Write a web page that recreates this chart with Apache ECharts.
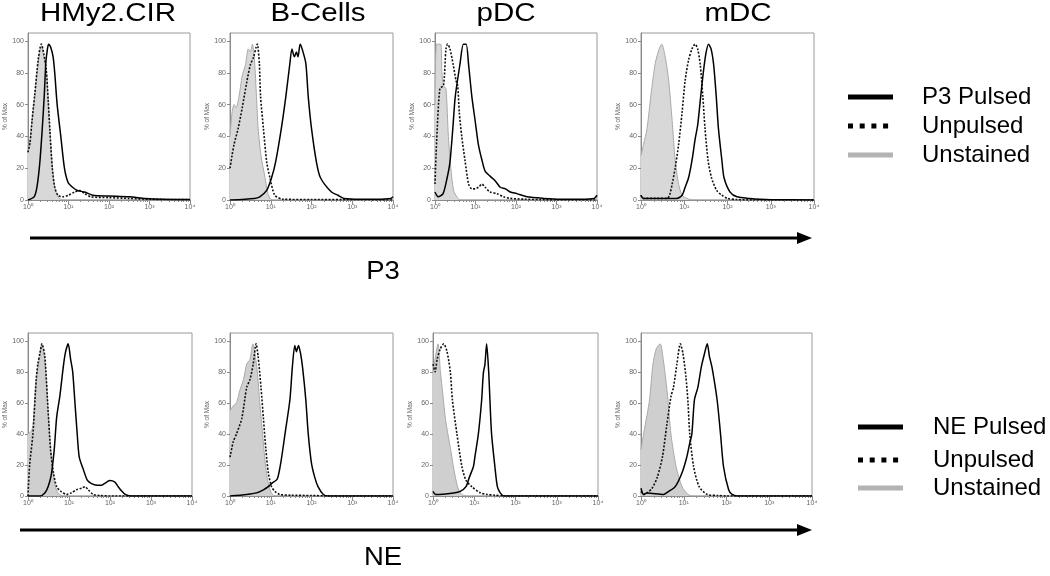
<!DOCTYPE html>
<html><head><meta charset="utf-8">
<script src="https://cdn.jsdelivr.net/npm/echarts@6/dist/echarts.min.js"></script>
<style>html,body{margin:0;padding:0;background:#fff}#c{width:1050px;height:576px}</style>
</head><body><div id="c"></div>
<script>
// ---------- labels ----------
const cellTypes = ['HMy2.CIR', 'B-Cells', 'pDC', 'mDC'];
const peptides = ['P3', 'NE'];
const xTickLabels = ['10⁰', '10¹', '10²', '10³', '10⁴'];
const yTickValues = [0, 20, 40, 60, 80, 100];
const yAxisName = '% of Max';
const legendP3 = ['P3 Pulsed', 'Unpulsed', 'Unstained'];
const legendNE = ['NE Pulsed', 'Unpulsed', 'Unstained'];

// ---------- data: [log10 fluorescence, % of max] ----------
// Row 1: P3
const p3_HMy_unstained = [[0,30],[0.05,38],[0.1,50],[0.165,65],[0.25,86],[0.3,95],[0.33,97],[0.39,90],[0.45,82],[0.5,62],[0.54,44],[0.6,22],[0.66,8],[0.74,2],[0.85,0],[4,0]];
const p3_HMy_unpulsed = [[0,30],[0.05,36],[0.1,50],[0.165,66],[0.25,88],[0.3,96],[0.33,98],[0.39,92],[0.45,82],[0.5,62],[0.54,44],[0.6,20],[0.66,8],[0.74,3],[0.85,2],[1.0,3],[1.15,5],[1.28,6],[1.4,4],[1.55,2],[2.0,1.5],[2.5,1],[3.0,0.5],[3.5,0.3],[4,0.2]];
const p3_HMy_pulsed = [[0,0],[0.15,2],[0.22,8],[0.29,23],[0.35,44],[0.4,65],[0.44,86],[0.48,95],[0.51,98],[0.56,96],[0.62,90],[0.66,80],[0.72,60],[0.81,40],[0.9,20],[0.99,11],[1.1,8],[1.22,6],[1.4,5],[1.6,3],[2.0,2.5],[2.5,2],[2.9,1],[3.3,0.5],[4,0.3]];

const p3_B_unstained = [[0,40],[0.05,55],[0.1,60],[0.15,58],[0.22,65],[0.3,78],[0.38,85],[0.45,95],[0.5,93],[0.55,98],[0.6,88],[0.65,65],[0.69,45],[0.76,28],[0.86,14],[0.92,5],[0.98,1],[1.05,0],[4,0]];
const p3_B_unpulsed = [[0,20],[0.05,28],[0.1,35],[0.2,45],[0.3,58],[0.41,74],[0.5,85],[0.58,90],[0.64,96],[0.67,98],[0.72,86],[0.75,65],[0.82,45],[0.9,24],[0.98,14],[1.1,3],[1.3,0.5],[2,0.3],[3,0.2],[4,0]];
const p3_B_pulsed = [[0,0],[0.6,1],[0.73,2],[0.9,6],[1.02,14],[1.12,24],[1.26,45],[1.37,65],[1.47,86],[1.52,95],[1.58,90],[1.63,93],[1.67,90],[1.72,98],[1.77,95],[1.86,86],[1.92,65],[2.0,45],[2.12,24],[2.22,14],[2.49,5],[2.65,3],[2.8,1],[3.2,0.5],[3.6,0.5],[3.95,1],[4,2]];

const p3_pDC_unstained = [[0,60],[0.04,98],[0.14,98],[0.17,80],[0.21,72],[0.27,70],[0.33,40],[0.39,20],[0.46,6],[0.54,2],[0.62,0],[4,0]];
const p3_pDC_unpulsed = [[0,10],[0.04,37],[0.12,70],[0.21,72],[0.27,95],[0.31,98],[0.37,95],[0.45,85],[0.52,75],[0.56,72],[0.6,55],[0.66,40],[0.74,25],[0.83,10],[0.91,7],[0.99,7],[1.07,8],[1.16,10],[1.24,8],[1.36,5],[1.53,4],[1.69,2],[1.86,1],[2.2,0.5],[2.6,0.2],[3,0],[4,0]];
const p3_pDC_pulsed = [[0,5],[0.08,2],[0.2,4],[0.3,14],[0.37,24],[0.44,45],[0.5,65],[0.62,86],[0.7,98],[0.77,98],[0.83,85],[0.91,65],[0.99,50],[1.07,35],[1.16,25],[1.24,18],[1.36,15],[1.49,12],[1.61,8],[1.74,7],[1.86,5],[2.02,4],[2.27,2],[2.69,1],[3.1,0.5],[3.6,0.5],[3.93,1],[4,3]];

const p3_mDC_unstained = [[0,28],[0.06,35],[0.14,45],[0.23,66],[0.33,86],[0.42,95],[0.48,98],[0.56,90],[0.64,75],[0.72,50],[0.79,25],[0.87,10],[0.95,3],[1.06,1],[1.2,0],[4,0]];
const p3_mDC_unpulsed = [[0,3],[0.05,1],[0.6,1],[0.66,3],[0.72,10],[0.79,20],[0.87,35],[0.95,55],[1.02,75],[1.1,88],[1.18,95],[1.25,98],[1.31,95],[1.37,85],[1.43,65],[1.48,45],[1.55,25],[1.63,14],[1.75,6],[1.87,3],[2.0,1],[2.2,0.3],[2.6,0],[4,0]];
const p3_mDC_pulsed = [[0,3],[0.05,1],[0.83,1],[0.95,3],[1.02,8],[1.1,14],[1.18,25],[1.25,38],[1.31,47],[1.38,65],[1.44,80],[1.5,92],[1.56,98],[1.62,95],[1.68,85],[1.74,65],[1.79,45],[1.87,25],[1.92,14],[2.06,5],[2.22,2],[2.52,1],[2.75,0.5],[3,0.2],[4,0]];

// Row 2: NE
const ne_HMy_unstained = [[0,40],[0.08,42],[0.12,45],[0.2,75],[0.29,90],[0.34,98],[0.41,88],[0.49,55],[0.57,25],[0.65,8],[0.73,2],[0.85,0],[4,0]];
const ne_HMy_unpulsed = [[0,0],[0.04,20],[0.12,40],[0.2,75],[0.24,85],[0.29,92],[0.34,98],[0.41,90],[0.49,55],[0.55,30],[0.62,15],[0.7,6],[0.8,3],[0.94,1],[1.06,2],[1.18,4],[1.31,5],[1.39,6],[1.47,4],[1.59,1],[1.76,0.3],[2,0],[4,0]];
const ne_HMy_pulsed = [[0,0],[0.29,0],[0.41,2],[0.49,6],[0.57,14],[0.64,30],[0.7,51],[0.78,65],[0.86,83],[0.91,92],[0.98,98],[1.04,88],[1.09,80],[1.14,62],[1.2,40],[1.25,25],[1.35,17],[1.45,10],[1.55,8],[1.68,7],[1.8,7],[1.92,9],[2.0,10],[2.12,9],[2.2,6],[2.29,3],[2.37,1],[2.5,0],[4,0]];

const ne_B_unstained = [[0,55],[0.08,58],[0.16,60],[0.24,68],[0.33,75],[0.41,85],[0.49,88],[0.56,98],[0.61,92],[0.67,80],[0.73,60],[0.8,40],[0.87,20],[0.94,8],[1.0,3],[1.06,0.5],[1.15,0],[4,0]];
const ne_B_unpulsed = [[0,25],[0.08,35],[0.16,40],[0.29,50],[0.41,70],[0.49,75],[0.57,85],[0.64,98],[0.69,90],[0.76,70],[0.82,50],[0.88,30],[0.94,15],[1.02,6],[1.1,3],[1.22,1],[1.5,0.5],[2,0.3],[2.5,0],[4,0]];
const ne_B_pulsed = [[0,0],[0.41,1],[0.65,2],[0.82,4],[0.94,6],[1.02,8],[1.16,11],[1.25,22],[1.35,40],[1.47,62],[1.53,83],[1.59,97],[1.63,93],[1.68,97],[1.73,92],[1.78,83],[1.86,62],[1.92,40],[2.0,21],[2.08,12],[2.16,6],[2.29,1],[2.4,0],[4,0]];

const ne_pDC_unstained = [[0,80],[0.06,90],[0.12,98],[0.18,80],[0.24,65],[0.3,50],[0.36,40],[0.44,28],[0.5,18],[0.56,10],[0.62,4],[0.7,1],[0.8,0],[4,0]];
const ne_pDC_unpulsed = [[0,85],[0.05,80],[0.1,88],[0.18,95],[0.26,98],[0.34,93],[0.42,80],[0.47,62],[0.58,40],[0.7,19],[0.8,10],[0.94,6],[1.15,2],[1.31,1],[1.5,0.5],[1.7,0],[4,0]];
const ne_pDC_pulsed = [[0,3],[0.06,1],[0.5,2],[0.66,3],[0.8,6],[0.88,12],[0.98,19],[1.02,26],[1.1,40],[1.18,62],[1.22,79],[1.26,85],[1.3,98],[1.35,80],[1.38,62],[1.42,40],[1.5,19],[1.56,6],[1.63,2],[1.72,0],[4,0]];

const ne_mDC_unstained = [[0,30],[0.06,40],[0.14,52],[0.2,62],[0.28,85],[0.36,95],[0.45,98],[0.52,88],[0.58,75],[0.63,62],[0.7,40],[0.82,19],[0.96,6],[1.1,1],[1.2,0],[4,0]];
const ne_mDC_unpulsed = [[0,3],[0.06,1],[0.14,2],[0.26,5],[0.38,12],[0.5,25],[0.6,45],[0.7,64],[0.76,70],[0.84,85],[0.92,98],[0.98,92],[1.05,77],[1.1,60],[1.14,40],[1.23,19],[1.36,6],[1.55,1],[1.8,0.3],[2,0],[4,0]];
const ne_mDC_pulsed = [[0,5],[0.06,1],[0.14,2],[0.53,1],[0.65,3],[0.8,6],[0.96,15],[1.07,25],[1.14,34],[1.19,40],[1.25,62],[1.33,70],[1.41,83],[1.47,90],[1.55,98],[1.6,90],[1.66,83],[1.78,62],[1.86,40],[1.93,19],[2.05,4],[2.13,1],[2.25,0],[4,0]];

// ---------- layout ----------
const panels = [
  {row:0, left:28,  width:162, u:p3_HMy_unstained, n:p3_HMy_unpulsed, p:p3_HMy_pulsed},
  {row:0, left:230, width:163, u:p3_B_unstained,   n:p3_B_unpulsed,   p:p3_B_pulsed},
  {row:0, left:435, width:162, u:p3_pDC_unstained, n:p3_pDC_unpulsed, p:p3_pDC_pulsed},
  {row:0, left:641, width:173, u:p3_mDC_unstained, n:p3_mDC_unpulsed, p:p3_mDC_pulsed},
  {row:1, left:28,  width:164, u:ne_HMy_unstained, n:ne_HMy_unpulsed, p:ne_HMy_pulsed},
  {row:1, left:230, width:163, u:ne_B_unstained,   n:ne_B_unpulsed,   p:ne_B_pulsed},
  {row:1, left:433, width:165, u:ne_pDC_unstained, n:ne_pDC_unpulsed, p:ne_pDC_pulsed},
  {row:1, left:641, width:171, u:ne_mDC_unstained, n:ne_mDC_unpulsed, p:ne_mDC_pulsed}
];
const rowTop = [33, 333];
const rowHeight = [167, 163];

const minorTickPos = [];
for (let d = 0; d < 4; d++) for (let m = 1; m <= 9; m++) minorTickPos.push(d + Math.log10(m));
minorTickPos.push(4);

const grids = [], xAxes = [], yAxes = [], series = [];
const axisGrey = '#8a8a8a', labelGrey = '#666';
panels.forEach((pn, i) => {
  grids.push({left: pn.left, top: rowTop[pn.row], width: pn.width, height: rowHeight[pn.row],
    show: true, borderColor: '#9a9a9a', borderWidth: 1, backgroundColor: 'transparent'});
  xAxes.push({type: 'value', gridIndex: i, min: 0, max: 4, interval: 1, position: 'bottom',
    axisLine: {show: true, lineStyle: {color: axisGrey, width: 1}},
    axisTick: {show: true, length: 4, lineStyle: {color: axisGrey}},
    splitLine: {show: false},
    axisLabel: {fontSize: 7, color: labelGrey, margin: 4, fontFamily: 'Liberation Sans',
      formatter: v => xTickLabels[Math.round(v)] || ''}});
  xAxes.push({type: 'value', gridIndex: i, min: 0, max: 4, position: 'bottom',
    axisLine: {show: false}, splitLine: {show: false}, axisLabel: {show: false},
    axisTick: {show: true, length: 2, customValues: minorTickPos, lineStyle: {color: axisGrey}}});
  yAxes.push({type: 'value', gridIndex: i, min: 0, max: 105,
    name: yAxisName, nameLocation: 'middle', nameGap: 18,
    nameTextStyle: {fontSize: 6.5, color: labelGrey, fontFamily: 'Liberation Sans'},
    axisLine: {show: true, lineStyle: {color: axisGrey, width: 1}},
    axisTick: {show: true, length: 3, customValues: yTickValues, lineStyle: {color: axisGrey}},
    splitLine: {show: false},
    axisLabel: {fontSize: 7, color: labelGrey, margin: 4, customValues: yTickValues, fontFamily: 'Liberation Sans'}});
  const common = {type: 'line', xAxisIndex: 2 * i, yAxisIndex: i, showSymbol: false, symbol: 'none', animation: false, smooth: 0.25};
  series.push(Object.assign({}, common, {name: 'Unstained', data: pn.u,
    lineStyle: {color: '#a9a9a9', width: 1}, areaStyle: {color: pn.row ? '#cfcfcf' : '#d8d8d8', opacity: 1}, z: 2}));
  series.push(Object.assign({}, common, {name: 'Unpulsed', data: pn.n,
    lineStyle: {color: '#111', width: 1.6, type: [2, 1.6]}, z: 3}));
  series.push(Object.assign({}, common, {name: 'Pulsed', data: pn.p,
    lineStyle: {color: '#000', width: 1.5}, z: 4}));
});

// ---------- graphics: headers, arrows, axis captions, legends ----------
const graphics = [];
const headerX = [108, 318, 506, 738];
function txt(text, x, y, size, align, sx) {
  return {type: 'text', x: x, y: y, scaleX: sx || 1, silent: true,
    style: {text: text, fontSize: size, fontFamily: 'Liberation Sans', fill: '#000',
      textAlign: align, align: align, textVerticalAlign: 'middle', verticalAlign: 'middle'}};
}
cellTypes.forEach((c, i) => graphics.push(txt(c, headerX[i], 14, 25, 'center', 1.18)));
const arrowY = [238, 530], arrowX0 = [30, 20], arrowTip = 812;
peptides.forEach((p, r) => {
  graphics.push({type: 'line', silent: true, shape: {x1: arrowX0[r], y1: arrowY[r], x2: arrowTip - 12, y2: arrowY[r]},
    style: {stroke: '#000', lineWidth: 3}});
  graphics.push({type: 'polygon', silent: true,
    shape: {points: [[arrowTip, arrowY[r]], [arrowTip - 15, arrowY[r] - 6], [arrowTip - 15, arrowY[r] + 6]]},
    style: {fill: '#000'}});
  graphics.push(txt(p, 383, r ? 558 : 272, 25, 'center', 1.1));
});
const legends = [
  {labels: legendP3, x1: 848, x2: 893, tx: 922, ys: [97, 126, 155]},
  {labels: legendNE, x1: 858, x2: 903, tx: 933, ys: [427, 460, 488]}
];
legends.forEach(lg => {
  graphics.push({type: 'line', silent: true, shape: {x1: lg.x1, y1: lg.ys[0], x2: lg.x2, y2: lg.ys[0]}, style: {stroke: '#000', lineWidth: 5}});
  graphics.push({type: 'line', silent: true, shape: {x1: lg.x1, y1: lg.ys[1], x2: lg.x2, y2: lg.ys[1]}, style: {stroke: '#000', lineWidth: 5, lineDash: [5, 6.7]}});
  graphics.push({type: 'line', silent: true, shape: {x1: lg.x1, y1: lg.ys[2], x2: lg.x2, y2: lg.ys[2]}, style: {stroke: '#b3b3b3', lineWidth: 5}});
  lg.labels.forEach((t, k) => graphics.push(txt(t, lg.tx, lg.ys[k], 24, 'left', 1)));
});

const chart = echarts.init(document.getElementById('c'), null, {renderer: 'canvas'});
chart.setOption({
  animation: false,
  backgroundColor: '#fff',
  grid: grids, xAxis: xAxes, yAxis: yAxes, series: series,
  graphic: {elements: graphics}
});
</script></body></html>
